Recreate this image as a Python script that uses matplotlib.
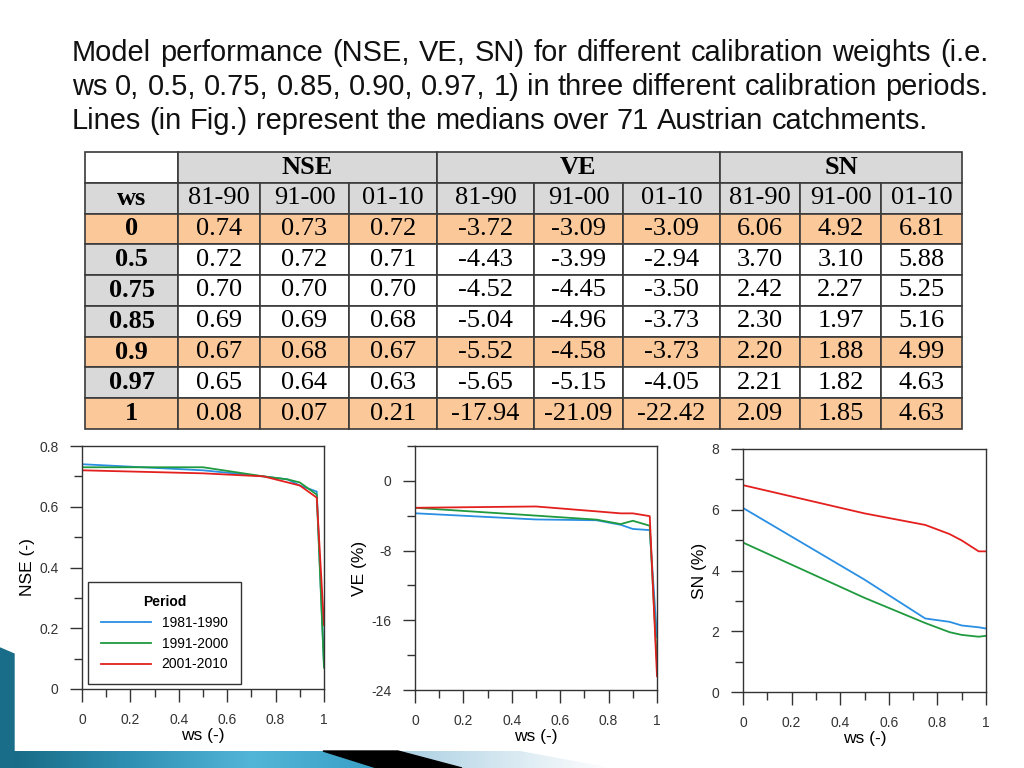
import numpy as np
import matplotlib.pyplot as plt
from matplotlib.patches import Polygon
from matplotlib.colors import LinearSegmentedColormap
from matplotlib.ticker import MultipleLocator

plt.rcParams['font.family'] = ['Liberation Sans', 'DejaVu Sans']
plt.rcParams['axes.unicode_minus'] = False

W, H = 1024, 768

# data (medians over 71 catchments) ==========================================
ws = [0, 0.5, 0.75, 0.85, 0.9, 0.97, 1]
ws_labels = ['0', '0.5', '0.75', '0.85', '0.9', '0.97', '1']
groups = ['NSE', 'VE', 'SN']
periods = ['81-90', '91-00', '01-10']
period_names = ['1981-1990', '1991-2000', '2001-2010']

nse_81 = [0.74, 0.72, 0.70, 0.69, 0.67, 0.65, 0.08]
nse_91 = [0.73, 0.72, 0.70, 0.69, 0.68, 0.64, 0.07]
nse_01 = [0.72, 0.71, 0.70, 0.68, 0.67, 0.63, 0.21]
ve_81 = [-3.72, -4.43, -4.52, -5.04, -5.52, -5.65, -17.94]
ve_91 = [-3.09, -3.99, -4.45, -4.96, -4.58, -5.15, -21.09]
ve_01 = [-3.09, -2.94, -3.50, -3.73, -3.73, -4.05, -22.42]
sn_81 = [6.06, 3.70, 2.42, 2.30, 2.20, 2.21, 2.09]
sn_91 = [4.92, 3.10, 2.27, 1.97, 1.88, 1.82, 1.85]
sn_01 = [6.81, 5.88, 5.25, 5.16, 4.99, 4.63, 4.63]

# values (a few differ slightly from the table)
nse_91_fig = [0.73, 0.73, 0.70, 0.69, 0.68, 0.64, 0.07]
sn_81_fig = [6.06, 3.70, 2.42, 2.31, 2.19, 2.13, 2.09]
sn_01_fig = [6.81, 5.88, 5.50, 5.20, 4.99, 4.63, 4.63]

line_colors = ['#2a8fe3', '#1f9a3f', '#e3201e']
orange = '#fbc89a'
grey = '#d9d9d9'


def fr(x0, y0, x1, y1):
    # pixel box (top-left origin) -> figure fraction rect
    return [x0 / W, 1 - y1 / H, (x1 - x0) / W, (y1 - y0) / H]


fig = plt.figure(figsize=(W / 100, H / 100), dpi=100)
fig.patch.set_facecolor('white')

# slide decoration ===========================================================
bg = fig.add_axes([0, 0, 1, 1], zorder=-10)
bg.axis('off')
teal = LinearSegmentedColormap.from_list('teal', ['#156780', '#2f8fb2', '#52b6d8', '#3a9fc6'])
pale = LinearSegmentedColormap.from_list('pale', ['#a9cfe2', '#d6e8f1', '#ffffff'])
grad = np.linspace(0, 1, 256).reshape(1, -1)

band = Polygon([(0, 751), (323, 751), (377, 768), (0, 768)], closed=True, transform=bg.transData)
im = bg.imshow(grad, cmap=teal, extent=(0, 377, 768, 751), aspect='auto')
im.set_clip_path(band)
side = Polygon([(0, 648), (14, 654), (14, 768), (0, 768)], closed=True, color='#1a6d88')
bg.add_patch(side)
bg.add_patch(Polygon([(323, 751), (398, 751), (462, 768), (377, 768)], closed=True, color='black'))
light = Polygon([(398, 751), (520, 751), (612, 768), (462, 768)], closed=True, transform=bg.transData)
im2 = bg.imshow(grad, cmap=pale, extent=(398, 612, 768, 751), aspect='auto')
im2.set_clip_path(light)
bg.set_xlim(0, W)
bg.set_ylim(H, 0)

# title text (justified like the slide) ======================================
title_lines = ['Model performance (NSE, VE, SN) for different calibration weights (i.e.',
               'ws 0, 0.5, 0.75, 0.85, 0.90, 0.97, 1) in three different calibration periods.',
               'Lines (in Fig.) represent the medians over 71 Austrian catchments.']
renderer = fig.canvas.get_renderer()
probe = fig.text(0, 0, title_lines[1], fontsize=20)
size = 20 * 916 / probe.get_window_extent(renderer).width
probe.remove()


def put_line(text, y, justify):
    words = text.split()
    arts = [fig.text(0, 1 - y / H, w, fontsize=size, color='#111111', va='baseline') for w in words]
    widths = [a.get_window_extent(renderer).width for a in arts]
    space = size * 100 / 72 * 0.278
    gap = (988 - 72 - sum(widths)) / (len(words) - 1) if justify else space
    x = 72
    for a, w in zip(arts, widths):
        a.set_x(x / W)
        x += w + gap


put_line(title_lines[0], 61, True)
put_line(title_lines[1], 95, True)
put_line(title_lines[2], 129, False)

# table ======================================================================
col_w = [93, 82, 89, 88, 97, 89, 97, 80, 81, 81]
grp_w = [col_w[0], sum(col_w[1:4]), sum(col_w[4:7]), sum(col_w[7:10])]

rows = [['ws'] + periods * 3]
for i, lab in enumerate(ws_labels):
    vals = [nse_81[i], nse_91[i], nse_01[i], ve_81[i], ve_91[i], ve_01[i],
            sn_81[i], sn_91[i], sn_01[i]]
    rows.append([lab] + [f'{v:.2f}' for v in vals])

tax = fig.add_axes(fr(85, 152, 962, 429))
tax.axis('off')


def style_cell(cell, face, bold):
    cell.set_edgecolor('#3a3a3a')
    cell.set_linewidth(1.2)
    cell.set_facecolor(face)
    t = cell.get_text()
    t.set_fontfamily('Liberation Serif')
    t.set_fontsize(19)
    if bold:
        t.set_fontweight('bold')


head = tax.table(cellText=[[''] + groups], colWidths=[w / sum(grp_w) for w in grp_w],
                 bbox=[0, 8 / 9, 1, 1 / 9], cellLoc='center')
head.auto_set_font_size(False)
for (r, c), cell in head.get_celld().items():
    style_cell(cell, 'white' if c == 0 else grey, True)

tab = tax.table(cellText=rows, colWidths=[w / sum(col_w) for w in col_w],
                bbox=[0, 0, 1, 8 / 9], cellLoc='center')
tab.auto_set_font_size(False)
hl_rows = {1, 5, 7}
for (r, c), cell in tab.get_celld().items():
    if r == 0:
        face = grey
    elif r in hl_rows:
        face = orange
    else:
        face = grey if c == 0 else 'white'
    style_cell(cell, face, c == 0)

# plots ======================================================================


def style(ax, ylim, major, minor, ylabel):
    ax.set_xlim(0, 1)
    ax.set_ylim(*ylim)
    ax.xaxis.set_major_locator(MultipleLocator(0.2))
    ax.xaxis.set_minor_locator(MultipleLocator(0.1))
    ax.yaxis.set_major_locator(MultipleLocator(major))
    ax.yaxis.set_minor_locator(MultipleLocator(minor))
    ax.xaxis.set_major_formatter(lambda v, p: f'{v:g}')
    ax.yaxis.set_major_formatter(lambda v, p: f'{v:g}')
    ax.tick_params(which='both', direction='out', color='#333333', labelcolor='#333333',
                   labelsize=10, width=1)
    ax.tick_params(which='major', length=9, pad=8)
    ax.tick_params(which='minor', length=6)
    for s in ax.spines.values():
        s.set_color('#333333')
        s.set_linewidth(1)
    ax.set_xlabel('ws (-)', fontsize=12.5, labelpad=1)
    ax.set_ylabel(ylabel, fontsize=12.5, labelpad=3)


ax1 = fig.add_axes(fr(82, 446, 324, 689))
for ys, c, lab in zip([nse_81, nse_91_fig, nse_01], line_colors, period_names):
    ax1.plot(ws, ys, color=c, lw=1.3, label=lab)
style(ax1, (0, 0.8), 0.2, 0.1, 'NSE (-)')
leg = ax1.legend(title='Period', loc='lower left', bbox_to_anchor=(6 / 242, 5 / 243),
                 borderaxespad=0, fontsize=10, title_fontproperties={'weight': 'bold', 'size': 10},
                 fancybox=False, edgecolor='#333333', framealpha=1, handlelength=3.6,
                 borderpad=0.9, labelspacing=0.5, handletextpad=0.8)
leg.get_frame().set_linewidth(1)

ax2 = fig.add_axes(fr(415, 446, 657, 690))
for ys, c in zip([ve_81, ve_91, ve_01], line_colors):
    ax2.plot(ws, ys, color=c, lw=1.3)
style(ax2, (-24, 4), 8, 4, 'VE (%)')

ax3 = fig.add_axes(fr(743, 449, 986, 692))
for ys, c in zip([sn_81_fig, sn_91, sn_01_fig], line_colors):
    ax3.plot(ws, ys, color=c, lw=1.3)
style(ax3, (0, 8), 2, 1, 'SN (%)')

fig.savefig('out.png', dpi=100)
